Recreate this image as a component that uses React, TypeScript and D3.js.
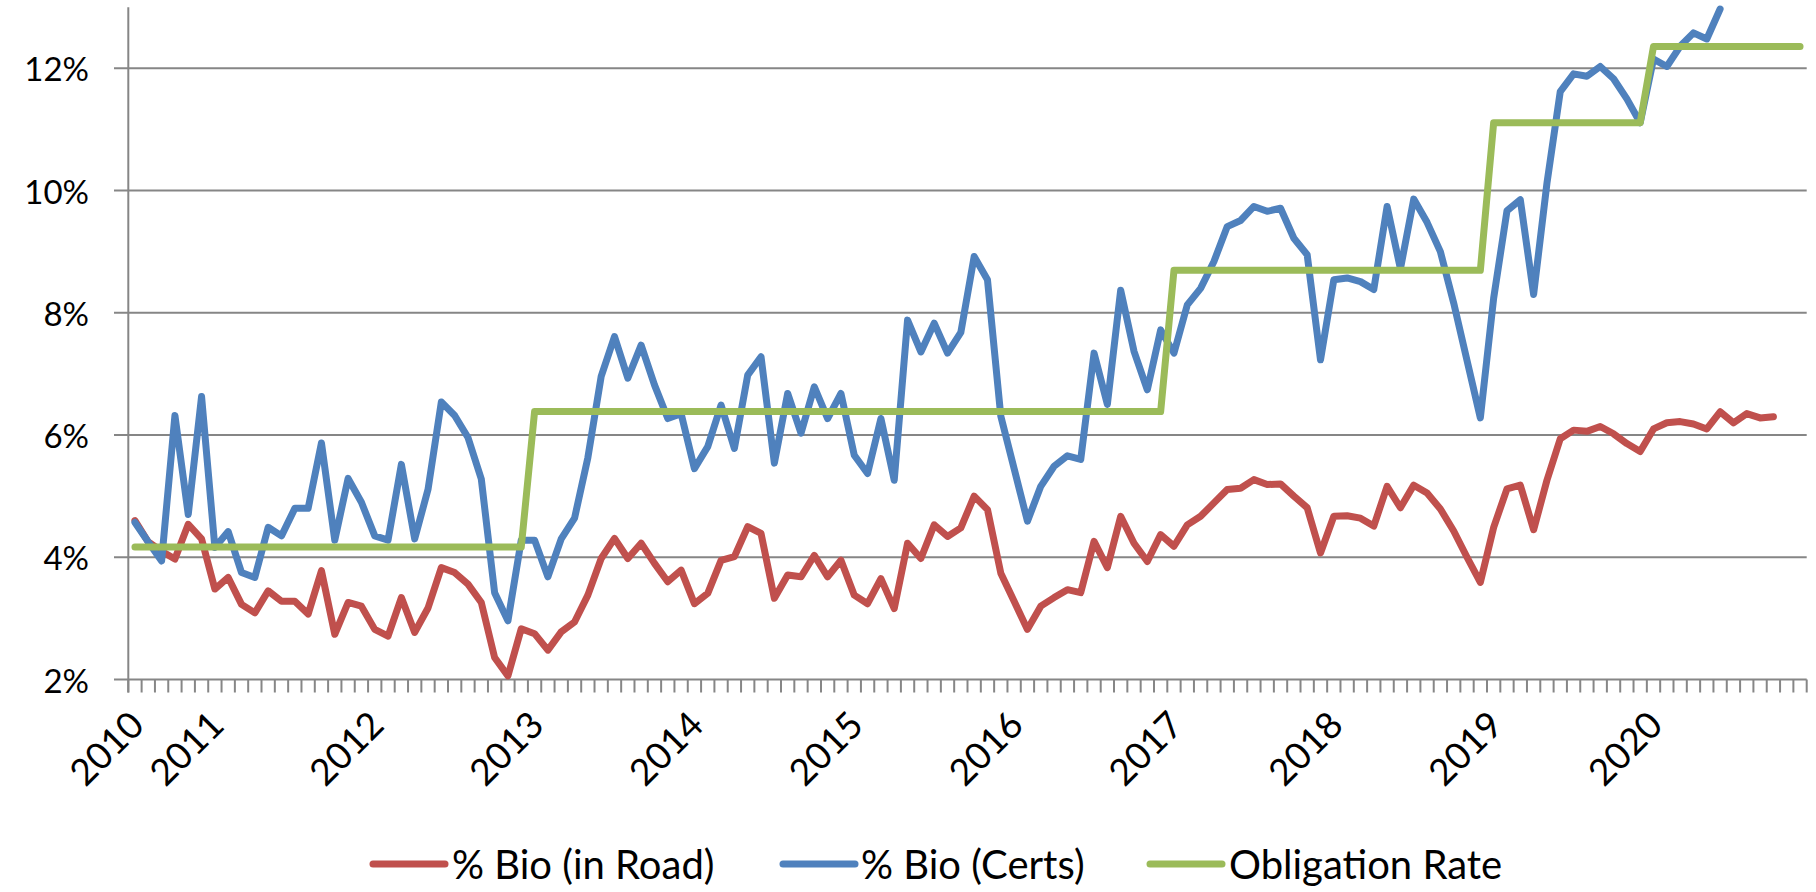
import React from 'react';
import * as d3 from 'd3';

// Monthly categories, Jul 2010 .. Dec 2020
const months: Date[] = d3.timeMonth.range(new Date(2010, 6, 1), new Date(2021, 0, 1));

// % Bio (in Road), Jul 2010 .. Sep 2020
const bioRoad: number[] = [
  4.60, 4.25, 4.10, 3.97, 4.54, 4.30, 3.48, 3.67, 3.23, 3.09, 3.45, 3.28,
  3.28, 3.07, 3.78, 2.74, 3.26, 3.20, 2.82, 2.71, 3.34, 2.77, 3.17, 3.83,
  3.75, 3.56, 3.26, 2.36, 2.06, 2.83, 2.75, 2.48, 2.78, 2.94, 3.38, 3.98,
  4.31, 3.98, 4.23, 3.90, 3.60, 3.79, 3.24, 3.41, 3.95, 4.01, 4.50, 4.39,
  3.33, 3.71, 3.68, 4.03, 3.68, 3.95, 3.38, 3.24, 3.65, 3.16, 4.23, 3.98,
  4.53, 4.34, 4.48, 5.00, 4.78, 3.74, 3.28, 2.82, 3.20, 3.34, 3.47, 3.42,
  4.26, 3.83, 4.67, 4.23, 3.93, 4.37, 4.18, 4.53, 4.67, 4.89, 5.11, 5.13,
  5.27, 5.19, 5.20, 5.00, 4.81, 4.07, 4.67, 4.68, 4.64, 4.51, 5.16, 4.81,
  5.18, 5.05, 4.79, 4.43, 4.00, 3.59, 4.49, 5.12, 5.18, 4.45, 5.26, 5.94,
  6.08, 6.06, 6.14, 6.02, 5.86, 5.73, 6.10, 6.20, 6.22, 6.18, 6.10, 6.38,
  6.20, 6.35, 6.28, 6.30,
];

// % Bio (Certs), Jul 2010 .. Jun 2020
const bioCerts: number[] = [
  4.57, 4.25, 3.94, 6.32, 4.70, 6.63, 4.16, 4.42, 3.75, 3.67, 4.49, 4.35,
  4.80, 4.80, 5.87, 4.28, 5.29, 4.90, 4.35, 4.28, 5.52, 4.30, 5.11, 6.54,
  6.32, 5.96, 5.28, 3.42, 2.96, 4.28, 4.28, 3.68, 4.30, 4.64, 5.63, 6.96,
  7.61, 6.93, 7.47, 6.82, 6.27, 6.35, 5.45, 5.81, 6.49, 5.78, 6.98, 7.28,
  5.54, 6.68, 6.03, 6.79, 6.27, 6.68, 5.67, 5.37, 6.27, 5.26, 7.88, 7.36,
  7.83, 7.34, 7.68, 8.92, 8.54, 6.31, 5.45, 4.59, 5.16, 5.49, 5.66, 5.60,
  7.34, 6.50, 8.37, 7.37, 6.74, 7.72, 7.34, 8.13, 8.40, 8.84, 9.41, 9.51,
  9.74, 9.66, 9.71, 9.22, 8.95, 7.23, 8.54, 8.57, 8.51, 8.38, 9.74, 8.72,
  9.86, 9.48, 9.00, 8.16, 7.22, 6.28, 8.24, 9.67, 9.85, 8.30, 10.12, 11.62,
  11.91, 11.87, 12.03, 11.83, 11.50, 11.11, 12.15, 12.03, 12.36, 12.58, 12.48, 12.97,
];

// Obligation Rate, Jul 2010 .. Dec 2020
const obligation: number[] = [
  4.166, 4.166, 4.166, 4.166, 4.166, 4.166, 4.166, 4.166, 4.166, 4.166, 4.166, 4.166,
  4.166, 4.166, 4.166, 4.166, 4.166, 4.166, 4.166, 4.166, 4.166, 4.166, 4.166, 4.166,
  4.166, 4.166, 4.166, 4.166, 4.166, 4.166, 6.383, 6.383, 6.383, 6.383, 6.383, 6.383,
  6.383, 6.383, 6.383, 6.383, 6.383, 6.383, 6.383, 6.383, 6.383, 6.383, 6.383, 6.383,
  6.383, 6.383, 6.383, 6.383, 6.383, 6.383, 6.383, 6.383, 6.383, 6.383, 6.383, 6.383,
  6.383, 6.383, 6.383, 6.383, 6.383, 6.383, 6.383, 6.383, 6.383, 6.383, 6.383, 6.383,
  6.383, 6.383, 6.383, 6.383, 6.383, 6.383, 8.695, 8.695, 8.695, 8.695, 8.695, 8.695,
  8.695, 8.695, 8.695, 8.695, 8.695, 8.695, 8.695, 8.695, 8.695, 8.695, 8.695, 8.695,
  8.695, 8.695, 8.695, 8.695, 8.695, 8.695, 11.111, 11.111, 11.111, 11.111, 11.111, 11.111,
  11.111, 11.111, 11.111, 11.111, 11.111, 11.111, 12.359, 12.359, 12.359, 12.359, 12.359, 12.359,
  12.359, 12.359, 12.359, 12.359, 12.359, 12.359,
];

const yTicks: number[] = [2, 4, 6, 8, 10, 12];

const seriesNames: string[] = ['% Bio (in Road)', '% Bio (Certs)', 'Obligation Rate'];
const seriesColors: string[] = ['#C0504D', '#4F81BD', '#9BBB59'];

const W = 1816;
const H = 892;
const FONT = "Lato, 'Open Sans', 'DejaVu Sans', sans-serif";

export default function App() {
  const x = d3
    .scaleBand<number>()
    .domain(d3.range(months.length))
    .range([128.3, 1806.7])
    .paddingInner(0)
    .paddingOuter(0);
  const bw = x.bandwidth();
  const cx = (i: number) => (x(i) as number) + bw / 2;
  const y = d3.scaleLinear().domain([2, 13]).range([679.5, 7.2]);

  const line = d3
    .line<number>()
    .x((_, i) => cx(i))
    .y((d) => y(d));

  const series = [bioRoad, bioCerts, obligation];

  const labelIdx = months
    .map((m, i) => ({ m, i }))
    .filter(({ m, i }) => i === 0 || m.getMonth() === 0);

  const axisColor = '#868686';
  const legendItems = [
    { lx: 373, tx: 452 },
    { lx: 783, tx: 861 },
    { lx: 1150, tx: 1229 },
  ];
  const legendY = 864;

  return (
    <div style={{ position: 'absolute', left: 0, top: 0 }}>
      <svg width={W} height={H} style={{ display: 'block', background: '#fff' }}>
        {/* gridlines */}
        {yTicks.map((t) => (
          <line
            key={'g' + t}
            x1={114}
            x2={x.range()[1]}
            y1={y(t)}
            y2={y(t)}
            stroke={axisColor}
            strokeWidth={2}
          />
        ))}
        {/* y axis */}
        <line x1={128.3} x2={128.3} y1={y(13)} y2={y(2) + 13} stroke={axisColor} strokeWidth={2} />
        {yTicks.map((t) => (
          <text
            key={'yl' + t}
            x={89}
            y={y(t)}
            textAnchor="end"
            dominantBaseline="central"
            fontFamily={FONT}
            fontSize={33}
            fill="#000"
          >
            {t + '%'}
          </text>
        ))}
        {/* x ticks */}
        {d3.range(months.length + 1).map((i) => {
          const xx = i < months.length ? (x(i) as number) : x.range()[1];
          return (
            <line
              key={'xt' + i}
              x1={xx}
              x2={xx}
              y1={y(2)}
              y2={y(2) + 13}
              stroke={axisColor}
              strokeWidth={2}
            />
          );
        })}
        {labelIdx.map(({ m, i }) => (
          <text
            key={'xl' + i}
            transform={`translate(${cx(i) + 1},${717}) rotate(-45)`}
            textAnchor="end"
            dominantBaseline="central"
            fontFamily={FONT}
            fontSize={37}
            fill="#000"
          >
            {d3.timeFormat('%Y')(m)}
          </text>
        ))}
        {/* series */}
        {series.map((s, k) => (
          <path
            key={'s' + k}
            d={line(s) || ''}
            fill="none"
            stroke={seriesColors[k]}
            strokeWidth={7}
            strokeLinejoin="round"
            strokeLinecap="round"
          />
        ))}
        {/* legend */}
        {legendItems.map((it, k) => (
          <g key={'lg' + k}>
            <line
              x1={it.lx}
              x2={it.lx + 72}
              y1={legendY}
              y2={legendY}
              stroke={seriesColors[k]}
              strokeWidth={7}
              strokeLinecap="round"
            />
            <text
              x={it.tx}
              y={legendY}
              dominantBaseline="central"
              fontFamily={FONT}
              fontSize={40}
              fill="#000"
            >
              {seriesNames[k]}
            </text>
          </g>
        ))}
      </svg>
    </div>
  );
}
